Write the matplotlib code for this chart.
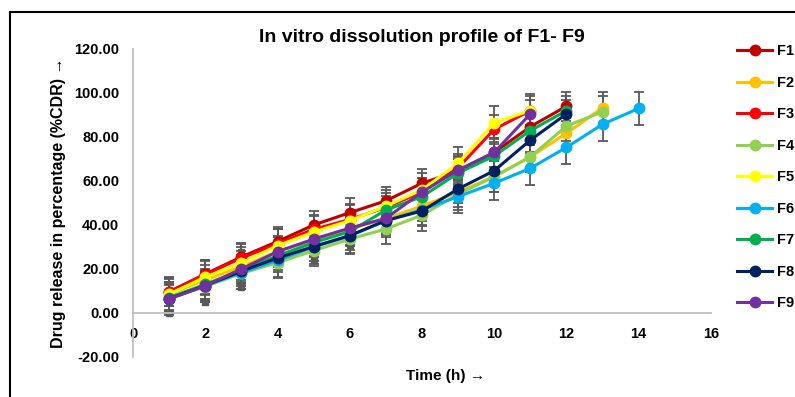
import matplotlib
matplotlib.use("Agg")
import matplotlib.pyplot as plt
from matplotlib.lines import Line2D

plt.rcParams['font.family'] = ['Liberation Sans', 'DejaVu Sans']

# ---- data ----
labels = ["F1", "F2", "F3", "F4", "F5", "F6", "F7", "F8", "F9"]
colors = ["#C00000", "#FFC000", "#FF0000", "#92D050", "#FFFF00",
          "#00B0F0", "#00B050", "#002060", "#7030A0"]

F1 = [9.7, 17.7, 25.5, 32.5, 40.0, 45.6, 51.0, 59.0, 64.5, 73.0, 84.7, 94.0]
F2 = [8.5, 15.0, 21.0, 28.0, 33.0, 38.0, 43.0, 48.6, 55.0, 62.0, 71.0, 81.7, 93.3]
F3 = [9.5, 17.5, 25.0, 31.5, 38.0, 42.5, 48.0, 55.0, 66.0, 83.5, 92.0]
F4 = [7.0, 12.0, 18.0, 22.9, 28.3, 33.6, 38.2, 44.5, 54.0, 62.0, 71.0, 85.0, 91.5]
F5 = [8.6, 16.3, 22.7, 30.6, 36.8, 42.0, 48.5, 56.0, 68.0, 86.5, 92.0]
F6 = [6.5, 12.5, 18.3, 24.0, 30.0, 35.0, 42.0, 47.0, 52.9, 59.0, 65.8, 75.3, 85.8, 93.0]
F7 = [7.0, 13.0, 19.5, 26.0, 32.0, 37.0, 46.8, 52.9, 63.6, 71.4, 82.9, 92.0]
F8 = [6.5, 12.5, 19.0, 25.0, 30.2, 35.2, 42.0, 46.4, 56.4, 64.7, 78.6, 90.5]
F9 = [6.4, 12.3, 20.0, 27.9, 33.6, 38.6, 43.0, 55.0, 65.0, 73.0, 90.5]
series = [F1, F2, F3, F4, F5, F6, F7, F8, F9]

# standard deviation of each formulation (approx.)
errors = [6.5, 7.0, 6.5, 7.0, 7.5, 7.5, 6.5, 6.5, 6.5]

# gray square end-marks visible on some error bars
sq_t = [1, 2, 3, 3, 5, 6]
sq_v = [0.0, 5.1, 11.8, 27.7, 24.0, 31.0]

x_ticks = [0, 2, 4, 6, 8, 10, 12, 14, 16]
y_ticks = [-20, 0, 20, 40, 60, 80, 100, 120]

# ---- figure ----
fig = plt.figure(figsize=(7.95, 3.97), dpi=100)
ax = fig.add_axes([133/795, 1-357/397, (711-133)/795, (357-49)/397])

gray_axis = "#BFBFBF"
err_col = "#595959"

for vals, err in zip(series, errors):
    t = list(range(1, len(vals) + 1))
    ax.errorbar(t, vals, yerr=err, fmt="none", ecolor=err_col,
                elinewidth=1.3, capsize=3.5, capthick=1.3, zorder=2)
ax.plot(sq_t, sq_v, ls="none", marker="s", ms=5, color=err_col, zorder=2)

handles = []
for vals, c, lab in zip(series, colors, labels):
    t = list(range(1, len(vals) + 1))
    h, = ax.plot(t, vals, color=c, lw=2.2, marker="o", ms=7.5,
                 markeredgecolor=c, label=lab, zorder=3)
    handles.append(h)

ax.set_xlim(0, 16)
ax.set_ylim(-20, 120)
ax.set_xticks(x_ticks)
ax.set_yticks(y_ticks)
ax.set_yticklabels([f"{v:.2f}" for v in y_ticks])

for s in ["top", "right"]:
    ax.spines[s].set_visible(False)
ax.spines["left"].set_color(gray_axis)
ax.spines["left"].set_linewidth(1.3)
ax.spines["bottom"].set_position(("data", 0))
ax.spines["bottom"].set_color(gray_axis)
ax.spines["bottom"].set_linewidth(1.3)
ax.tick_params(axis="both", length=0, labelsize=10.5)
ax.tick_params(axis="x", pad=10)
ax.tick_params(axis="y", pad=10)
for lbl in ax.get_xticklabels() + ax.get_yticklabels():
    lbl.set_fontweight("bold")

fig.text(422/795, 1-38/397, "In vitro dissolution profile of F1- F9",
         ha="center", va="center", fontsize=14, fontweight="bold")
fig.text(445/795, 1-376/397, "Time (h) →", ha="center", va="center",
         fontsize=11, fontweight="bold")
fig.text(59/795, 1-203/397, "Drug release in percentage (%CDR) →",
         ha="center", va="center", rotation=90, fontsize=11.5, fontweight="bold")

leg = fig.legend(handles=handles, loc="upper left",
                 bbox_to_anchor=(724/795, 1-31/397), frameon=False,
                 handlelength=2.4, handletextpad=0.3, labelspacing=1.2,
                 prop={"weight": "bold", "size": 10.5})

# outer frame lines
fig.add_artist(Line2D([10/795, 10/795], [0, 1-12/397], color="black", lw=1.5,
                      transform=fig.transFigure))
fig.add_artist(Line2D([10/795, 1], [1-12/397, 1-12/397], color="black", lw=1.5,
                      transform=fig.transFigure))

fig.savefig("out.png", dpi=100)
